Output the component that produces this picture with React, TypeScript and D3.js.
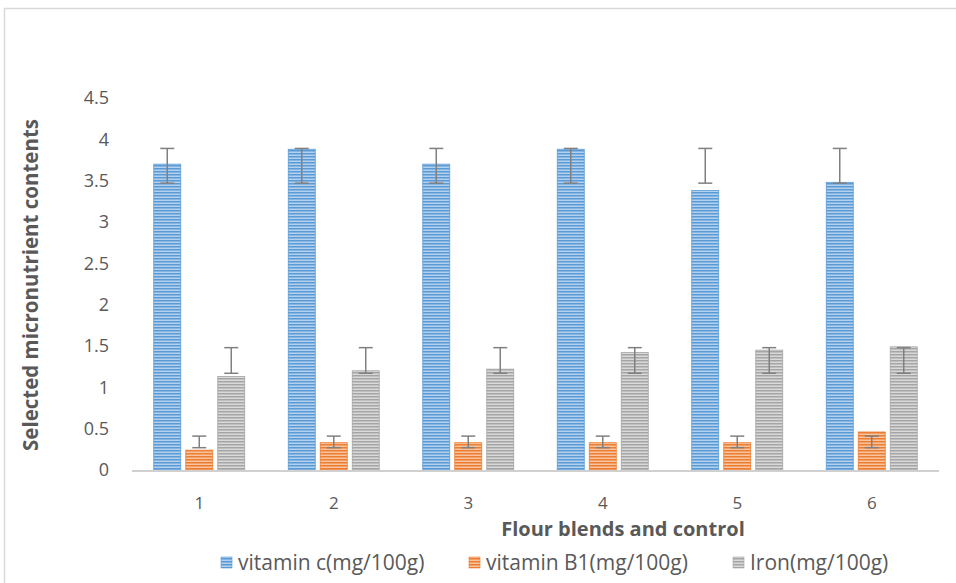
import React from "react";
import * as d3 from "d3";

const categories = ["1", "2", "3", "4", "5", "6"];
const seriesNames = ["vitamin c(mg/100g)", "vitamin B1(mg/100g)", "Iron(mg/100g)"];
const vitaminC = [3.7, 3.88, 3.7, 3.88, 3.38, 3.48];
const vitaminB1 = [0.24, 0.33, 0.33, 0.33, 0.33, 0.46];
const iron = [1.13, 1.2, 1.22, 1.42, 1.45, 1.49];
const vitaminCErrLow = [3.47, 3.47, 3.47, 3.47, 3.47, 3.47];
const vitaminCErrHigh = [3.89, 3.89, 3.89, 3.89, 3.89, 3.89];
const vitaminB1ErrLow = [0.27, 0.27, 0.27, 0.27, 0.27, 0.27];
const vitaminB1ErrHigh = [0.41, 0.41, 0.41, 0.41, 0.41, 0.41];
const ironErrLow = [1.17, 1.17, 1.17, 1.17, 1.17, 1.17];
const ironErrHigh = [1.48, 1.48, 1.48, 1.48, 1.48, 1.48];
const yTicks = [0, 0.5, 1, 1.5, 2, 2.5, 3, 3.5, 4, 4.5];

const seriesValues = [vitaminC, vitaminB1, iron];
const seriesLow = [vitaminCErrLow, vitaminB1ErrLow, ironErrLow];
const seriesHigh = [vitaminCErrHigh, vitaminB1ErrHigh, ironErrHigh];
const baseColors = ["#5b9bd5", "#ed7d31", "#a5a5a5"];
const lightColors = ["#b3d0ee", "#f8c4a0", "#d9d9d9"];

const W = 956;
const H = 583;
const FONT = "'Open Sans', Lato, sans-serif";
const TEXT = "#595959";

export default function App() {
  const x0 = d3.scaleBand<string>().domain(categories).range([132, 939]).padding(0);
  const x1 = d3
    .scaleBand<string>()
    .domain(seriesNames)
    .range([-45.5, 45.5])
    .paddingInner(5 / 32)
    .paddingOuter(0);
  const y = d3.scaleLinear().domain([0, 4.5]).range([470, 98]);
  const bw = x1.bandwidth();

  const legendX = [221, 469, 733];

  return (
    <svg
      width={W}
      height={H}
      style={{ position: "absolute", left: 0, top: 0, background: "#fff" }}
      fontFamily={FONT}
    >
      <defs>
        {baseColors.map((c, i) => (
          <pattern
            key={i}
            id={`stripe${i}`}
            patternUnits="userSpaceOnUse"
            width={4}
            height={3}
          >
            <rect x={0} y={0} width={4} height={3} fill={lightColors[i]} />
            <rect x={0} y={0} width={4} height={1.5} fill={c} />
          </pattern>
        ))}
      </defs>
      <rect x={0} y={0} width={W} height={H} fill="#fff" />
      <rect x={4.5} y={8.5} width={W + 10} height={H + 10} fill="none" stroke="#d9d9d9" strokeWidth={1.5} />

      {/* y tick labels */}
      {yTicks.map((t) => (
        <text
          key={t}
          x={109}
          y={y(t)}
          dy="0.35em"
          textAnchor="end"
          fontSize={18}
          fill={TEXT}
        >
          {t}
        </text>
      ))}

      {/* bars */}
      {categories.map((cat, ci) => (
        <g key={cat} transform={`translate(${(x0(cat) ?? 0) + x0.bandwidth() / 2},0)`}>
          {seriesNames.map((s, si) => {
            const v = seriesValues[si][ci];
            const bx = x1(s) ?? 0;
            return (
              <rect
                key={s}
                x={bx}
                y={y(v)}
                width={bw}
                height={y(0) - y(v)}
                fill={`url(#stripe${si})`}
                stroke={baseColors[si]}
                strokeWidth={0.8}
              />
            );
          })}
        </g>
      ))}

      {/* x axis line */}
      <line x1={132} x2={939} y1={y(0) + 1} y2={y(0) + 1} stroke="#d0d0d0" strokeWidth={2} />

      {/* error bars */}
      {categories.map((cat, ci) => (
        <g key={cat} transform={`translate(${(x0(cat) ?? 0) + x0.bandwidth() / 2},0)`}>
          {seriesNames.map((s, si) => {
            const cx = (x1(s) ?? 0) + bw / 2;
            const lo = y(seriesLow[si][ci]);
            const hi = y(seriesHigh[si][ci]);
            return (
              <g key={s} stroke="#808080" strokeWidth={1.5}>
                <line x1={cx} x2={cx} y1={lo} y2={hi} />
                <line x1={cx - 7} x2={cx + 7} y1={lo} y2={lo} />
                <line x1={cx - 7} x2={cx + 7} y1={hi} y2={hi} />
              </g>
            );
          })}
        </g>
      ))}

      {/* x tick labels */}
      {categories.map((cat) => (
        <text
          key={cat}
          x={(x0(cat) ?? 0) + x0.bandwidth() / 2}
          y={503}
          dy="0.35em"
          textAnchor="middle"
          fontSize={17}
          fill={TEXT}
        >
          {cat}
        </text>
      ))}

      {/* axis titles */}
      <text x={623} y={536} textAnchor="middle" fontSize={20} fontWeight="bold" fill={TEXT}>
        Flour blends and control
      </text>
      <text
        transform={`translate(38,${285}) rotate(-90)`}
        textAnchor="middle"
        fontSize={20.5}
        fontWeight="bold"
        fill={TEXT}
      >
        Selected micronutrient contents
      </text>

      {/* legend */}
      {seriesNames.map((s, si) => (
        <g key={s}>
          <rect x={legendX[si]} y={557} width={11} height={11} fill={`url(#stripe${si})`} stroke={baseColors[si]} strokeWidth={0.6} />
          <text x={legendX[si] + 17} y={563} dy="0.35em" fontSize={21} fill={TEXT}>
            {s}
          </text>
        </g>
      ))}
    </svg>
  );
}
